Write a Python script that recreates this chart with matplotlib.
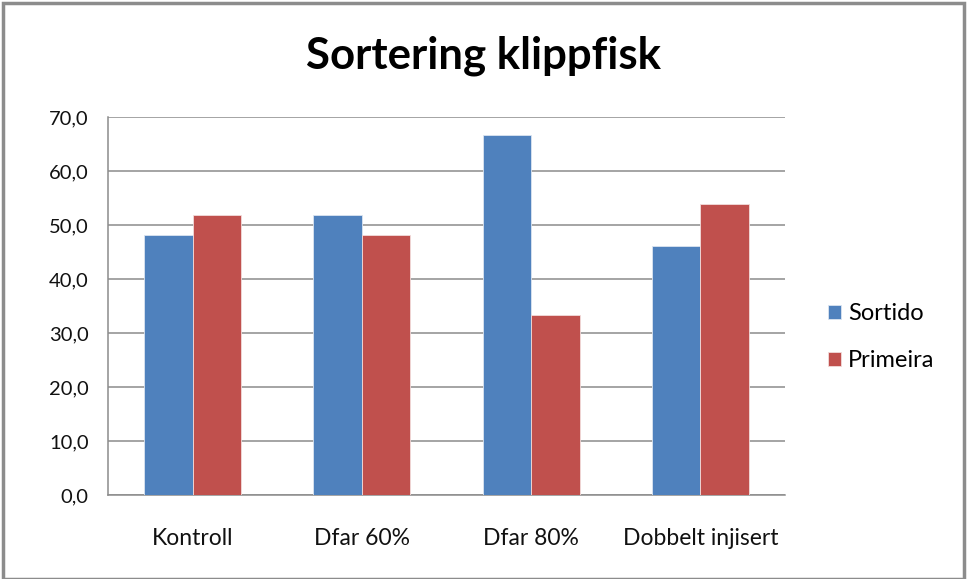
import numpy as np
import matplotlib
matplotlib.use("Agg")
import matplotlib.pyplot as plt
from matplotlib.patches import Rectangle

categories = ["Kontroll", "Dfar 60%", "Dfar 80%", "Dobbelt injisert"]
sortido = [48.1, 51.9, 66.7, 46.2]
primeira = [51.9, 48.1, 33.3, 53.8]
series_names = ["Sortido", "Primeira"]
yticks = [0, 10, 20, 30, 40, 50, 60, 70]

BLUE, RED = "#4F81BD", "#C0504D"
plt.rcParams["font.family"] = ["Lato", "DejaVu Sans"]

fig = plt.figure(figsize=(9.67, 5.79), dpi=100)
ax = fig.add_axes([0.1117, 0.145, 0.7001, 0.653])

x = np.arange(len(categories))
w = 0.286
ax.bar(x - w / 2, sortido, w, color=BLUE, edgecolor="#dbe5f1", linewidth=0.6, label=series_names[0], zorder=3)
ax.bar(x + w / 2, primeira, w, color=RED, edgecolor="#f2dcdb", linewidth=0.6, label=series_names[1], zorder=3)

ax.set_xlim(-0.5, len(categories) - 0.5)
ax.set_ylim(0, 70)
ax.set_yticks(yticks)
ax.set_yticklabels([f"{v:.1f}".replace(".", ",") for v in yticks], fontsize=14.5, color="#111111")
ax.set_xticks(x)
ax.set_xticklabels(categories, fontsize=16.5, color="#111111")
ax.tick_params(axis="y", length=0, pad=14)
ax.tick_params(axis="x", length=0, pad=24)
ax.yaxis.grid(True, color="#8c8c8c", lw=1.1, zorder=0)
ax.set_axisbelow(True)
for s in ["top", "right"]:
    ax.spines[s].set_visible(False)
for s in ["left", "bottom"]:
    ax.spines[s].set_color("#8c8c8c")
    ax.spines[s].set_linewidth(1.1)

fig.text(0.5, 0.903, "Sortering klippfisk", ha="center", va="center",
         fontsize=31.5, fontweight="bold", color="black")

ax.legend(loc="center left", bbox_to_anchor=(1.032, 0.418), frameon=False,
          fontsize=17, handlelength=0.55, handleheight=0.55, labelspacing=1.1,
          handletextpad=0.3)

# outer chart border
fig.patches.append(Rectangle((0.003, 0.0), 0.994, 0.995, transform=fig.transFigure,
                             fill=False, edgecolor="#8c8c8c", lw=2.5))

fig.savefig("out.png", dpi=100)
